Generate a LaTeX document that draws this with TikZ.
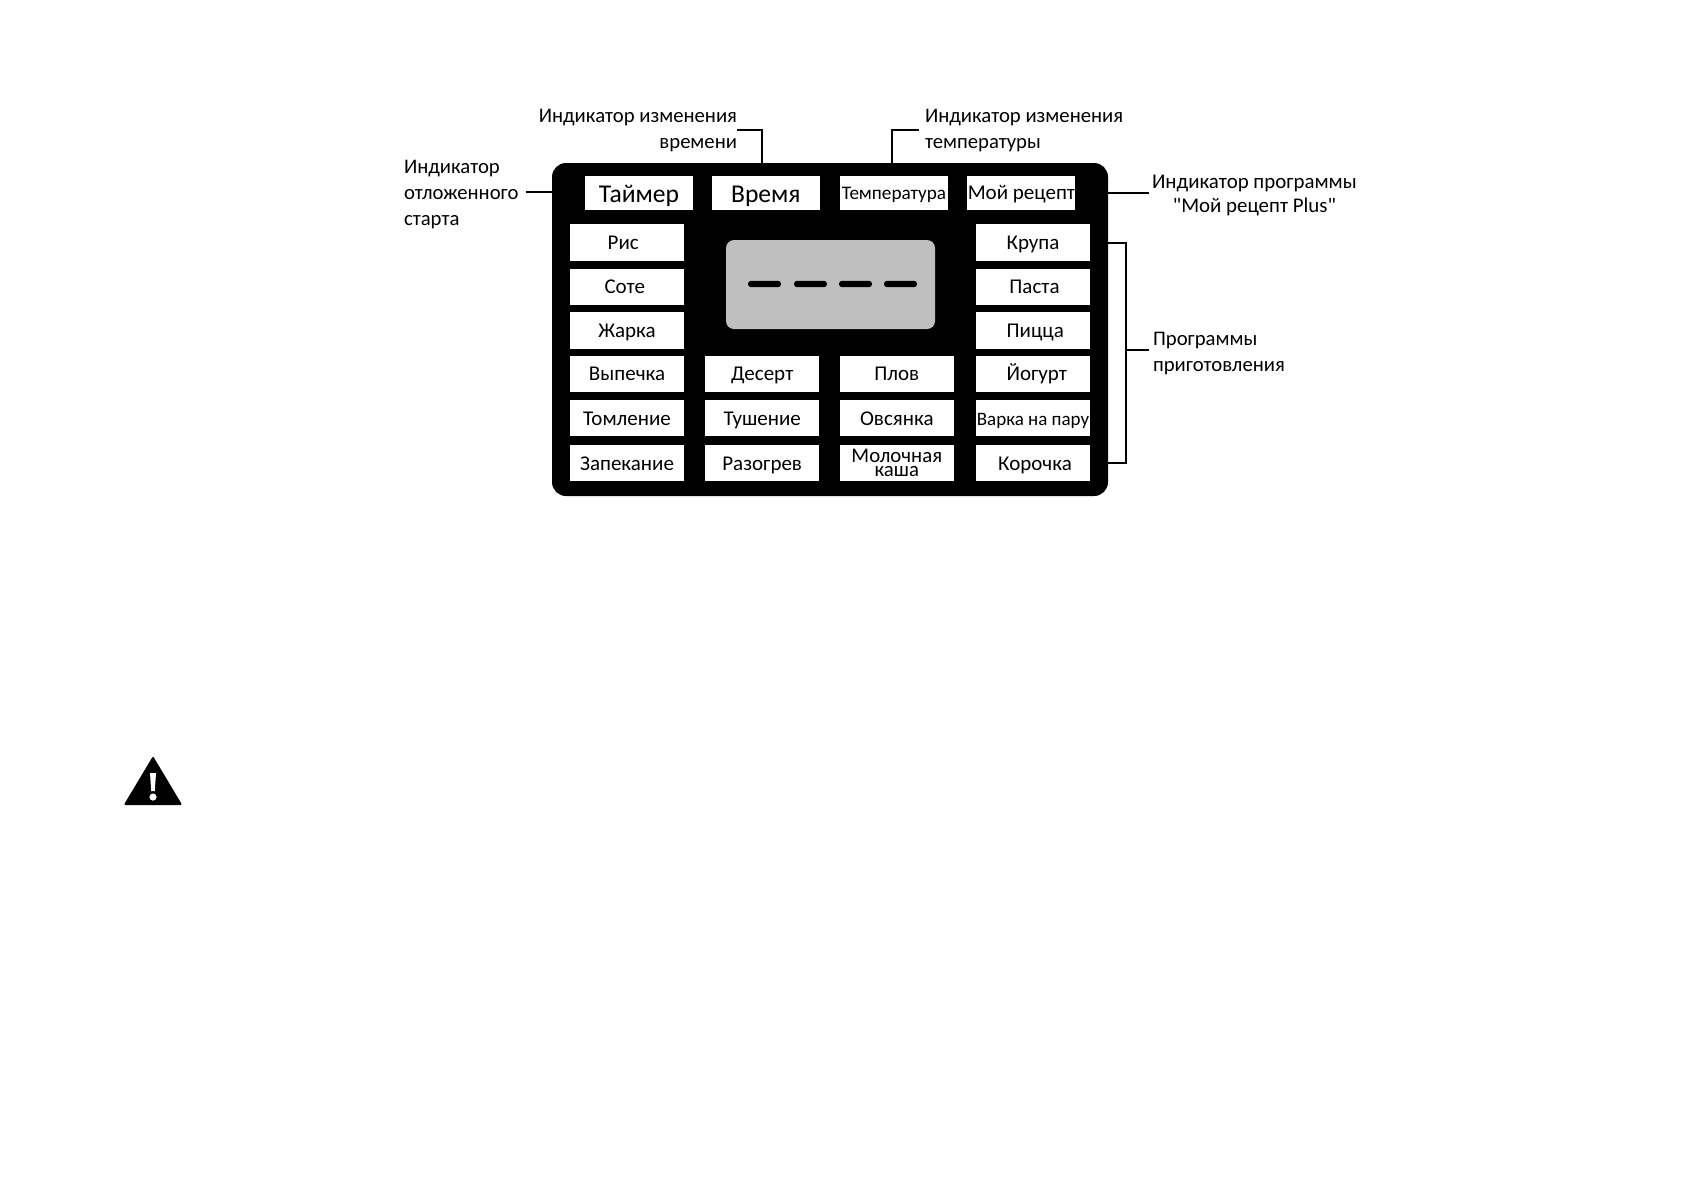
\documentclass[tikz,border=0pt]{standalone}
\usepackage{fontspec}
\setmainfont{Carlito}
\newfontfamily\plainfont{Carlito}
\usetikzlibrary{positioning}

\begin{document}
\begin{tikzpicture}[
  x=0.5pt, y=-0.5pt,
  panel/.style={rectangle, rounded corners=7pt, fill=black, inner sep=0pt, outer sep=0pt,
    minimum width=278pt, minimum height=166.5pt},
  screen/.style={rectangle, rounded corners=4pt, fill=black!25, inner sep=0pt, outer sep=0pt,
    minimum width=104.5pt, minimum height=44.5pt},
  bar/.style={rectangle, rounded corners=1.5pt, fill=black, inner sep=0pt, outer sep=0pt,
    minimum width=16.5pt, minimum height=3.2pt},
  btn/.style={rectangle, fill=white, inner sep=0pt, outer sep=0pt, align=center,
    minimum width=57pt, minimum height=18.2pt, text height=9.1pt, text depth=2.2pt,
    font=\fontsize{10.5}{11}\selectfont},
  topbtn/.style={btn, minimum width=54pt, minimum height=17pt},
  lbl/.style={inner sep=0pt, outer sep=0pt, font=\fontsize{10.35}{13}\selectfont},
  leader/.style={line width=1pt, draw=black}
]
\useasboundingbox (0,0) rectangle (1684,1191);

% Panel and screen
\node[panel] (panel) at (830,329.5) {};
\node[screen] (scr) at (830.5,284.5) {};
\node[bar] (d1) at (764.5,284) {};
\node[bar, right=6.5pt of d1] (d2) {};
\node[bar, right=6pt of d2] (d3) {};
\node[bar, right=6pt of d3] (d4) {};

% Top row
\node[topbtn, font=\fontsize{12.8}{14}\selectfont, text height=11.7pt, text depth=2.7pt] (timer) at (639,193) {Таймер};
\node[topbtn, font=\fontsize{12.8}{14}\selectfont, text height=11.7pt, text depth=2.7pt, right=9.4pt of timer] (vrem) {Время};
\node[topbtn, font=\fontsize{9.6}{11}\selectfont, right=10.1pt of vrem] (temp) {Температура};
\node[topbtn, right=9.7pt of temp] (recipe) {Мой рецепт};

% Left column
\node[btn] (ris) at (627,242.5) {Рис\kern3.8pt};
\node[btn, below=4pt of ris] (sote) {Соте\kern2.2pt};
\node[btn, below=3.5pt of sote] (zhar) {Жарка};
\node[btn, below=3.5pt of zhar] (vyp) {Выпечка};
\node[btn, below=4pt of vyp] (toml) {Томление};
\node[btn, below=4.3pt of toml] (zap) {Запекание};

% Middle columns
\node[btn, right=10.6pt of vyp] (des) {Десерт};
\node[btn, right=10.6pt of toml] (tush) {Тушение};
\node[btn, right=10.6pt of zap] (raz) {Разогрев};
\node[btn, right=10.3pt of des] (plov) {Плов};
\node[btn, right=10.3pt of tush] (ovs) {Овсянка};
\node[btn, right=10.3pt of raz, font=\fontsize{10.4}{7}\selectfont, text height={}, text depth={}] (mol) {Молочная\\каша};

% Right column
\node[btn, right=11.1pt of plov] (yog) {\kern3.8ptЙогурт};
\node[btn, right=11.1pt of ovs, font=\fontsize{9.5}{11}\selectfont] (par) {Варка на пару};
\node[btn, right=11.1pt of mol] (kor) {\kern2ptКорочка};
\node[btn, above=3.5pt of yog] (pic) {\kern2.2ptПицца};
\node[btn, above=3.5pt of pic] (pas) {\kern1.5ptПаста};
\node[btn, above=4pt of pas] (kru) {Крупа};

% Labels
\node[lbl, align=right, anchor=east] (lbvrem) at (737,131) {Индикатор изменения\\времени};
\node[lbl, align=left, anchor=west] (lbtemp) at (925,131) {Индикатор изменения\\температуры};
\node[lbl, align=left, anchor=west] (lbtimer) at (404,195) {Индикатор\\отложенного\\старта};
\node[lbl, align=center, anchor=west, font=\plainfont\fontsize{10.45}{12}\selectfont] (lbrec) at (1152,195) {Индикатор программы\\"Мой рецепт Plus"};
\node[lbl, align=left, anchor=west] (lbprog) at (1153,354) {Программы\\приготовления};

% Leaders
\coordinate (vtop) at (761.5,163);
\coordinate (ttop) at (891.5,163);
\coordinate (brc) at (1125.5,243);
\coordinate (tmend) at ([shift={(3.5pt,1.5pt)}]lbtimer.east);
\coordinate (rcend) at ([shift={(-1.5pt,1pt)}]lbrec.west);
\coordinate (prend) at ([shift={(-2pt,2pt)}]lbprog.west);
\draw[leader] (vtop) |- ([yshift=0.5pt]lbvrem.east);
\draw[leader] (ttop) |- ([xshift=-3pt,yshift=0.5pt]lbtemp.west);
\draw[leader] (tmend) -- (panel.west |- tmend);
\draw[leader] (panel.east |- rcend) -- (rcend);
\draw[leader] (panel.east |- kru) -| (brc) |- (panel.east |- kor);
\draw[leader] (prend) -- (brc |- prend);

% Warning sign
\fill[line join=round, draw=black, line width=1pt] (125.5,804) -- (153,758) -- (180.5,804) -- cycle;
\fill[white] (150,773) -- (156,773) -- (154.8,791) -- (151.2,791) -- cycle;
\fill[white] (153,797) circle[radius=1.8pt];

\end{tikzpicture}
\end{document}
